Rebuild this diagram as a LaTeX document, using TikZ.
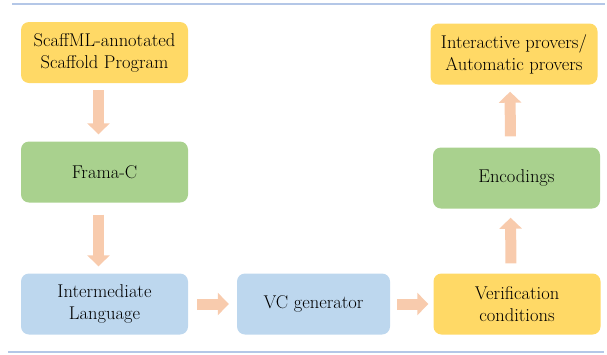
\documentclass[tikz,border=0pt]{standalone}
\usetikzlibrary{arrows.meta}
\definecolor{boxyellow}{HTML}{FFD966}
\definecolor{boxgreen}{HTML}{A9D18E}
\definecolor{boxblue}{HTML}{BDD7EE}
\definecolor{arrowfill}{HTML}{F8CBAD}
\definecolor{rulecol}{HTML}{B4C7E7}
\begin{document}
\begin{tikzpicture}[x=1pt,y=-1pt]
            \tikzset{
                stage/.style={fill=#1, rounded corners=8pt, minimum width=167pt, minimum height=61pt, align=center, font=\fontsize{18.5}{22}\selectfont, inner sep=0pt},
                flow/.style={arrowfill, line width=11pt, -{Triangle[width=22pt,length=11pt]}},}
            \useasboundingbox (0,0) rectangle (607,354);
            \draw [rulecol, line width=1.5pt](12,4) -- (605,4);
            \draw [rulecol, line width=1.5pt](8,352) -- (604,352);
            \node [stage=boxyellow] (scaff) at (104.5,52.5) {ScaffML-annotated\\Scaffold Program};
            \node [stage=boxgreen] (frama) at (104.5,172) {Frama-C};
            \node [stage=boxblue] (inter) at (104.5,304) {Intermediate\\Language};
            \node [stage=boxblue, minimum width=153pt] (vcgen) at (313.5,304) {VC generator};
            \node [stage=boxyellow] (verif) at (517,304) {Verification\\conditions};
            \node [stage=boxgreen] (enc) at (516.5,178) {Encodings};
            \node [stage=boxyellow] (provers) at (514,54) {Interactive provers/\\Automatic provers};
            % block arrows between the stages
            \draw [flow, shorten <=7pt, shorten >=7pt]([xshift=-6pt]scaff.south) -- ([xshift=-6pt]frama.north);
            \draw [flow, shorten <=12pt, shorten >=7pt]([xshift=-6pt]frama.south) -- ([xshift=-6pt]inter.north);
            \draw [flow, shorten <=9pt, shorten >=8pt](inter.east) -- (vcgen.west);
            \draw [flow, shorten <=7pt, shorten >=5pt](vcgen.east) -- (verif.west);
            \draw [flow, shorten <=10pt, shorten >=9pt]([xshift=-6pt]verif.north) -- ([xshift=-6pt]enc.south);
            \draw [flow, shorten <=11pt, shorten >=7pt]([xshift=-6pt]enc.north) -- ([xshift=-4pt]provers.south);
        \end{tikzpicture}
\end{document}
